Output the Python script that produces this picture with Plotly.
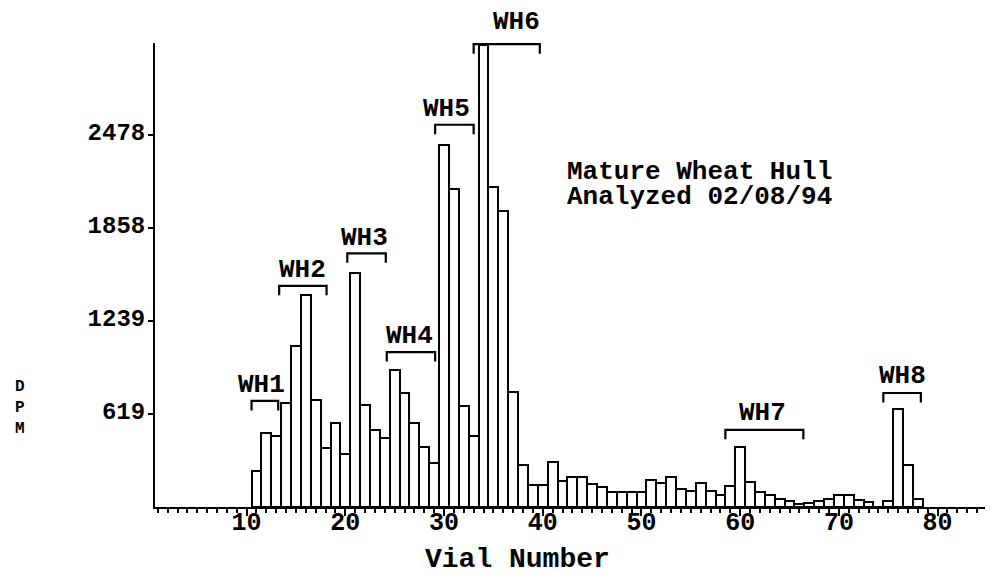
import plotly.graph_objects as go

# ---- data ----
vials = list(range(11, 79))
dpm = [243, 495, 473, 694, 1072, 1410, 713, 394, 562, 354,
       1562, 679, 513, 457, 915, 763, 561, 402, 295, 2416,
       2118, 672, 470, 3083, 2133, 1971, 768, 278, 150, 150,
       303, 174, 197, 197, 152, 131, 101, 101, 101, 101,
       182, 157, 200, 123, 106, 157, 106, 79, 139, 399,
       167, 100, 78, 52, 37, 22, 29, 37, 52, 82,
       78, 44, 33, 0, 37, 652, 282, 56]

y_tick_vals = [619, 1239, 1858, 2478]
y_tick_text = ["619", "1239", "1858", "2478"]
x_major_vals = list(range(5, 85, 5))
x_major_text = [str(v) if v % 10 == 0 else "" for v in x_major_vals]
x_minor_vals = list(range(1, 85))

groups = ["WH1", "WH2", "WH3", "WH4", "WH5", "WH6", "WH7", "WH8"]
group_start = [10.5, 13.3, 20.2, 24.2, 29.1, 33.0, 58.5, 74.5]
group_end = [13.2, 18.1, 24.1, 29.1, 33.0, 39.7, 66.4, 78.3]
group_level = [707, 1474, 1691, 1033, 2548, 3085, 514, 760]
label_x = [11.55, 15.65, 21.9, 26.5, 30.25, 37.3, 62.3, 76.4]
label_shift = [16, 16, 15, 16, 16, 22, 17, 17]

note_lines = ["Mature Wheat Hull", "Analyzed 02/08/94"]
y_title = "D<br>P<br>M"

FONT = "Liberation Mono, Courier New, monospace"

fig = go.Figure()
fig.add_trace(go.Bar(
    x=vials, y=dpm, width=1.0,
    marker=dict(color="white", line=dict(color="black", width=2)),
    showlegend=False,
))

# brackets
tick_drop = 63
for g, x0, x1, lvl, lx, sh in zip(groups, group_start, group_end, group_level,
                                   label_x, label_shift):
    fig.add_shape(
        type="path",
        path=f"M {x0},{lvl - tick_drop} L {x0},{lvl} L {x1},{lvl} L {x1},{lvl - tick_drop}",
        xref="x", yref="y",
        line=dict(color="black", width=2.2),
    )
    fig.add_annotation(
        x=lx, y=lvl, xref="x", yref="y", text=g, showarrow=False,
        yanchor="middle", yshift=sh,
        font=dict(family=FONT, size=26, color="black", weight="bold"),
    )

# note text
for txt, yv in zip(note_lines, [2234, 2067]):
    fig.add_annotation(x=42.4, y=yv, xref="x", yref="y", text=txt,
                       showarrow=False, xanchor="left", yanchor="middle",
                       borderpad=0,
                       font=dict(family=FONT, size=26, color="black", weight="bold"))

# y title stacked letters
fig.add_annotation(x=-0.163, y=0.2134, xref="paper", yref="paper",
                   text=y_title, showarrow=False,
                   xanchor="center", yanchor="middle", borderpad=0,
                   font=dict(family=FONT, size=16, color="black", weight="bold"))

# x title
fig.add_annotation(x=0.437, y=-0.114, xref="paper", yref="paper",
                   text="Vial Number", showarrow=False,
                   xanchor="center", yanchor="middle",
                   font=dict(family=FONT, size=28, color="black", weight="bold"))

fig.update_layout(
    width=990, height=580,
    margin=dict(l=155, r=5, t=43, b=73),
    paper_bgcolor="white", plot_bgcolor="white",
    bargap=0,
    font=dict(family=FONT, color="black", weight="bold"),
    xaxis=dict(
        range=[0.72, 84.8], automargin=False,
        showgrid=False, zeroline=False,
        showline=True, linecolor="black", linewidth=2,
        tickmode="array", tickvals=x_major_vals, ticktext=x_major_text,
        ticks="outside", ticklen=7, tickwidth=2, tickcolor="black",
        ticklabelstandoff=-16,
        tickfont=dict(family=FONT, size=25, color="black", weight="bold"),
        minor=dict(tickmode="array", tickvals=x_minor_vals, ticks="outside",
                   ticklen=4, tickwidth=1.5, tickcolor="black"),
    ),
    yaxis=dict(
        range=[0, 3093], automargin=False,
        showgrid=False, zeroline=False,
        showline=True, linecolor="black", linewidth=2,
        tickmode="array", tickvals=y_tick_vals, ticktext=y_tick_text,
        ticks="outside", ticklen=5, tickwidth=1.5, tickcolor="black",
        ticklabelstandoff=-2, ticklabelshift=-4,
        tickfont=dict(family=FONT, size=24, color="black", weight="bold"),
    ),
)

fig.write_html("out.html",
               config={"displayModeBar": False},
               post_script="document.body.style.margin='0px';")
